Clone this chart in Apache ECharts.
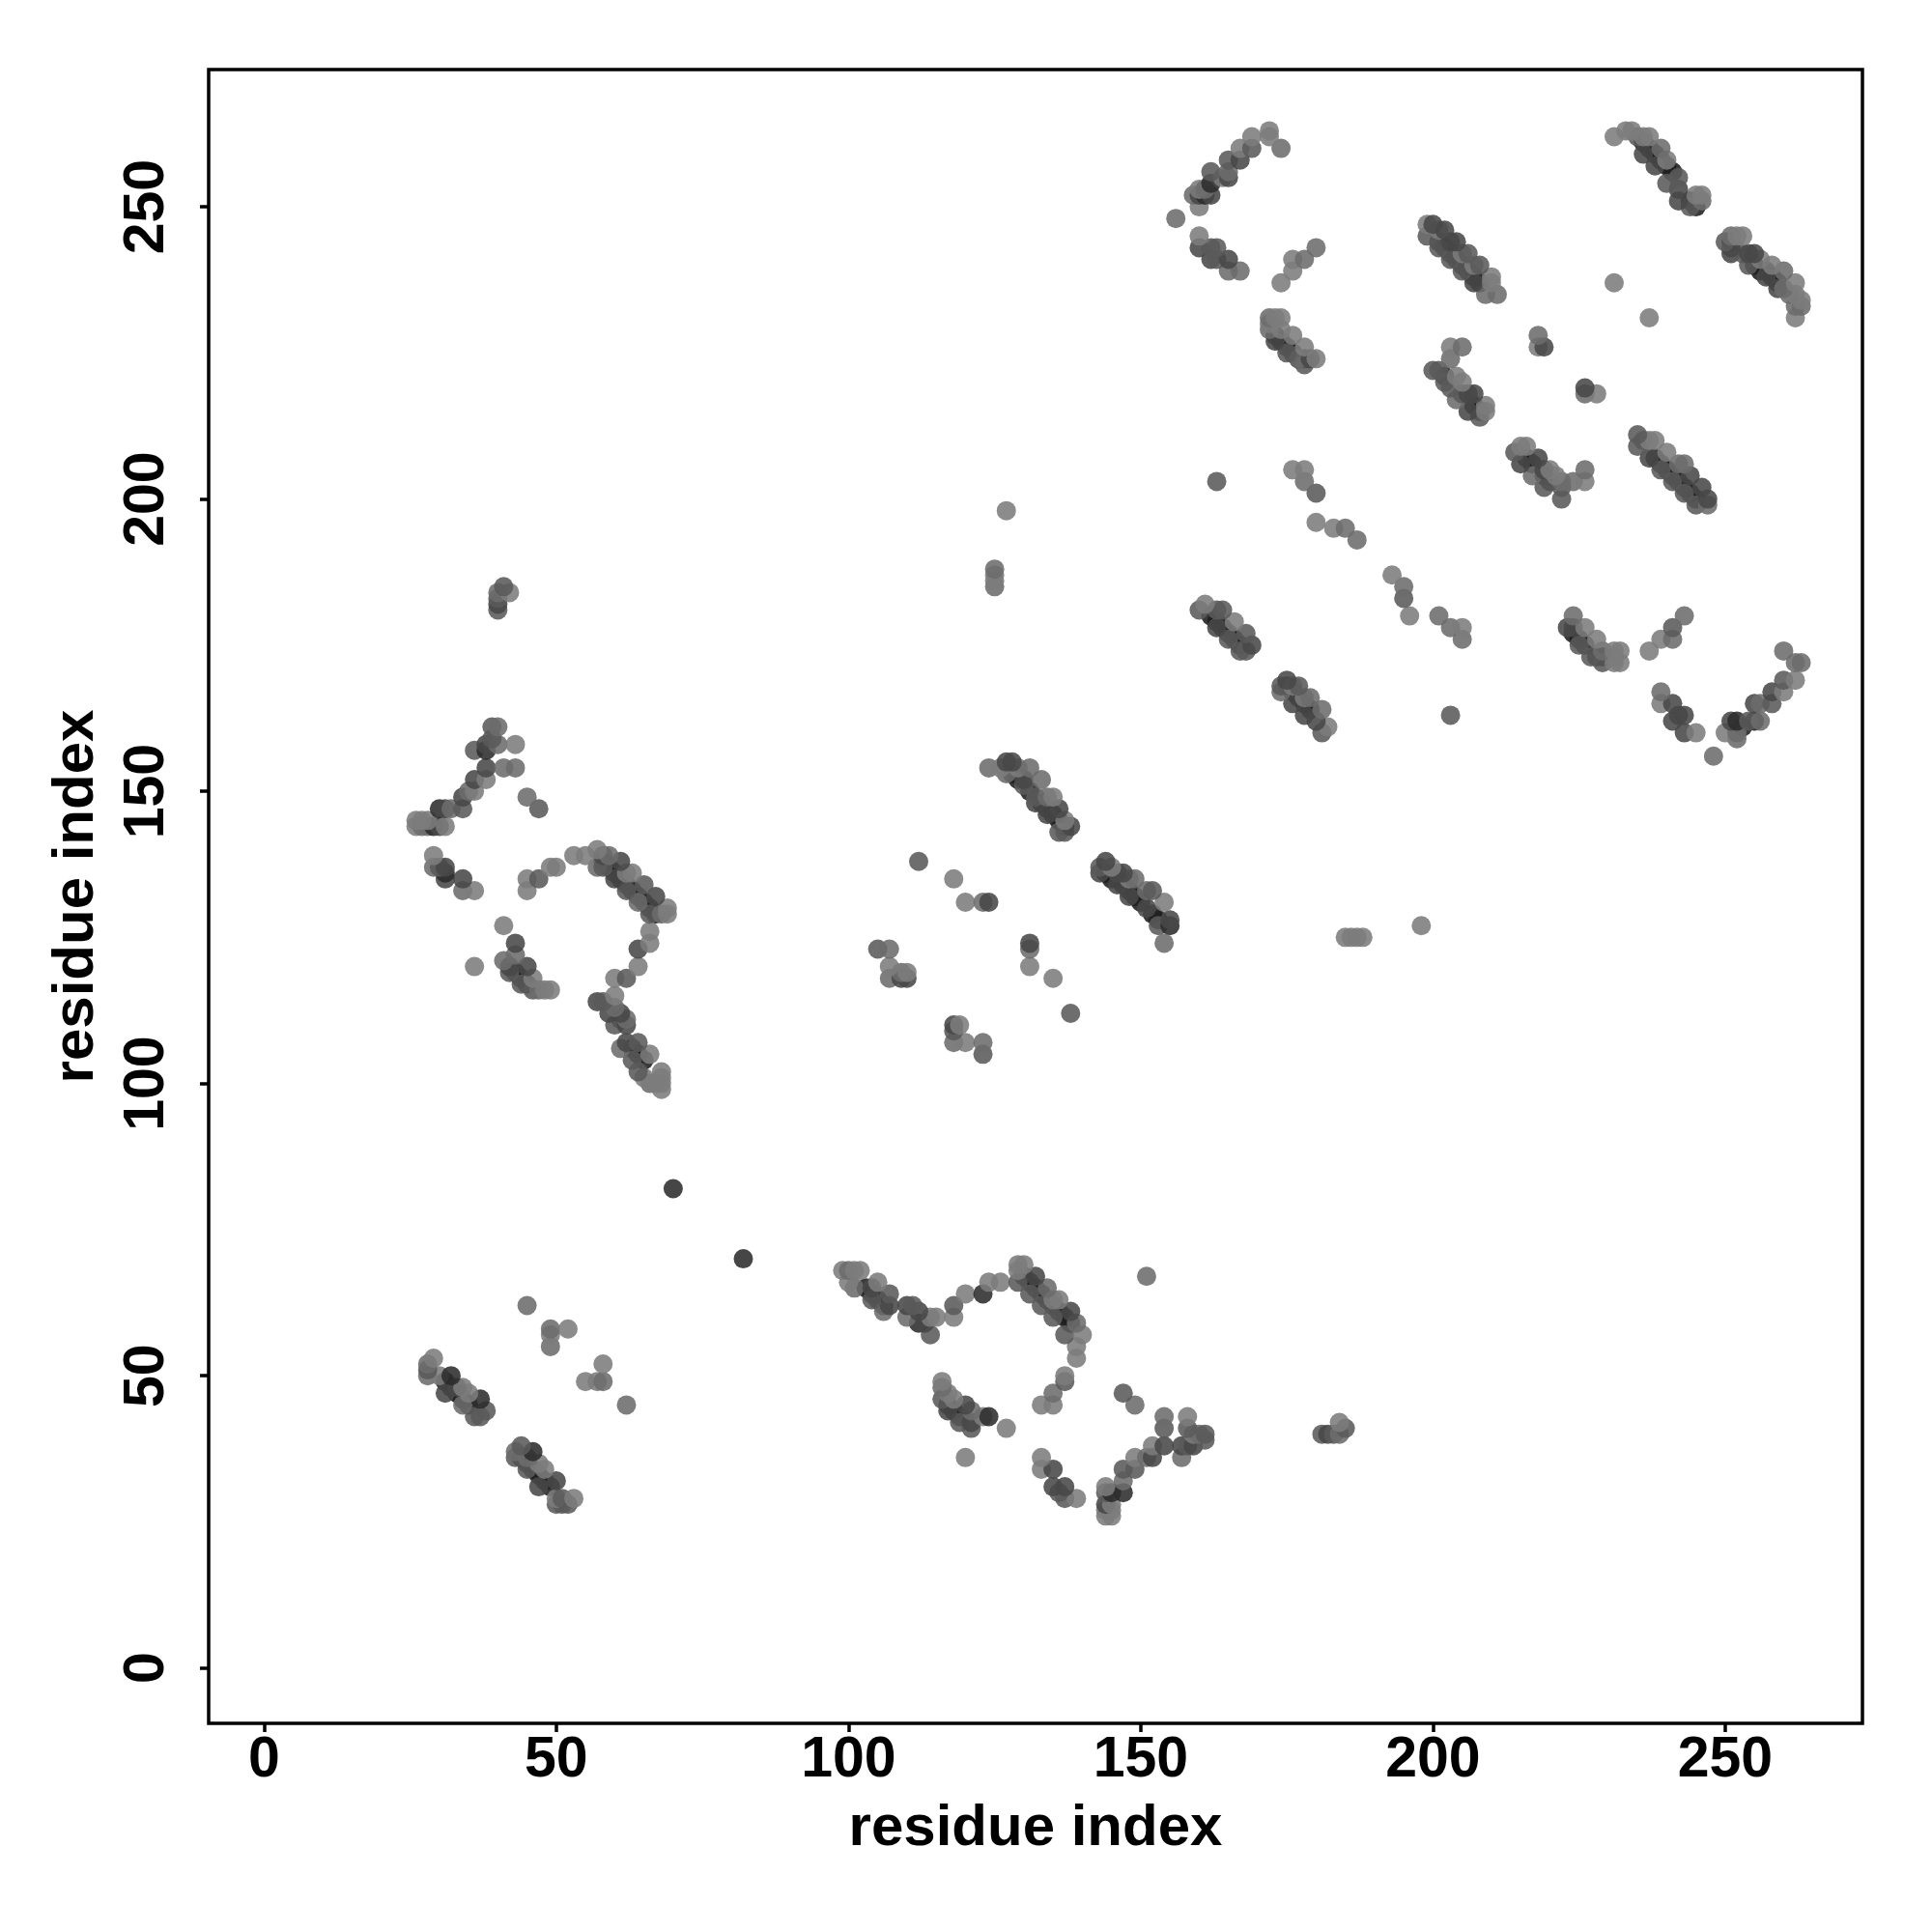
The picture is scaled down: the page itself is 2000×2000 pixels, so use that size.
<!DOCTYPE html>
<html><head><meta charset="utf-8"><style>html,body{margin:0;background:#fff}#c{width:2000px;height:2000px}</style>
<script src="https://cdn.jsdelivr.net/npm/echarts@6/dist/echarts.min.js"></script></head><body><div id="c"></div><script>
const tickLabels=[0,50,100,150,200,250];
const axisName="residue index";
// [residue i, residue j, grey level of the dot]; S marks dark dots that lie under the others
const L=124,M=108,N=90,D=72,K=44,S=30;
const helixA=[[40,181,N],[40,182,D],[40,183,N],[40,184,M],[41,185,N],[42,184,L]];
const loopB=[[40,161,M],[39,161,N],[38,158,D],[39,159,N],[40,158,M],[43,158,L],[36,157,N],[38,157,K],[38,154,D],[41,154,M],[43,154,M],[38,152,L],[36,152,D],[45,149,M],[47,147,N],[36,150,L],[34,149,D],[35,150,M],[34,147,N],[32,147,M],[30,147,K],[31,147,D],[29,144,K],[31,144,L],[27,144,M],[26,144,L],[26,145,L],[27,145,L],[28,144,M],[28,145,L],[30,144,D],
[29,139,L],[29,137,M],[30,137,N],[31,137,D],[31,135,D],[31,136,K],[34,135,D],[34,133,M],[36,133,L]];
const arcC=[[45,135,L],[45,133,L],[47,135,N],[49,137,L],[50,137,L],[53,139,L],[55,139,L],[57,140,L],[58,139,D],[59,139,M],[61,138,D],[62,136,L],[63,136,L],[65,134,N],[67,132,D],[69,130,L],[69,129,L],[68,129,M],[57,137,M],[58,137,N],[60,135,D],[62,133,N],[64,131,M],[66,129,N],[58,138,S],[59,137,S],[60,136,S],[61,135,S],[62,134,S],[63,133,S],[64,132,S],[65,131,S],[66,130,S],[67,129,S]];
const bandD=[[41,127,L],[43,124,D],[43,122,M],[41,121,M],[42,120,D],[42,119,N],[45,120,D],[44,117,N],[46,118,L],[46,116,N],[49,116,L],[48,116,L],[47,116,M],[36,120,L],[43,119,S],[44,118,S],[45,117,S]];
const turnE=[[66,126,L],[66,124,L],[64,123,D],[64,120,L],[62,118,N],[60,118,L],[60,115,L],[57,114,D],[58,114,N],[59,112,D],[61,112,D],[62,111,M],[60,110,N],[62,110,D],[61,111,S],[60,113,M],[61,106,M],[62,107,D],[64,107,N],[63,104,N],[66,105,L],[65,101,L],[68,102,L],[68,99,L],[66,100,M],[68,100,L],[68,101,L],[64,102,N],[63,106,S],[64,105,S],[65,104,S],[67,100,L]];
const pointsF=[[70,82,K],[82,70,K],[45,62,M],[49,58,M],[52,58,L],[49,55,M],[49,57,L],[58,52,L],[55,49,L],[57,49,L],[58,49,M],[62,45,M]];
const bandG=[[29,53,L],[28,52,M],[28,50,M],[28,51,N],[30,50,L],[32,50,K],[31,47,D],[34,48,L],[33,48,D],[35,47,L],[34,45,M],[37,46,K],[38,44,N],[36,43,N],[37,43,N],[31,49,S],[32,48,S],[33,47,S],[34,46,S],[35,45,S]];
const bandH=[[44,38,N],[43,36,N],[43,37,M],[46,37,K],[45,36,M],[45,34,N],[47,35,L],[48,34,L],[47,31,D],[50,32,D],[50,29,L],[50,28,N],[51,28,N],[52,28,N],[53,29,L],[51,29,N],[44,36,S],[45,35,S],[46,34,S],[47,33,S],[48,32,S],[49,31,S]];
const bandI=[[99,68,L],[100,68,M],[101,68,L],[102,68,L],[100,66,L],[101,65,M],[104,65,D],[105,66,L],[104,63,N],[106,61,M],[107,64,N],[107,62,D],[103,65,S],[104,64,S],[105,63,S],[106,62,S],
[110,62,D],[111,62,N],[110,60,M],[112,61,D],[112,59,K],[114,60,L],[115,60,L],[114,57,N],[113,59,D],[118,60,L],[118,62,N],[120,64,L],[123,64,K],[124,66,L],[126,66,L]];
const bandJ=[[129,69,L],[130,69,L],[129,68,L],[129,66,N],[132,67,D],[131,64,N],[134,65,M],[133,62,N],[135,63,L],[136,63,L],[135,60,N],[138,61,D],[139,59,M],[137,57,N],[140,57,L],[139,55,L],[139,53,L],[130,67,S],[131,66,S],[132,65,S],[133,64,S],[134,63,S],[135,62,S],[136,61,S],[137,60,S],[138,59,S],
[137,50,L],[137,49,N],[135,47,M],[133,45,L],[135,45,L],[151,67,M]];
const bandK=[[147,47,N],[149,45,M],[154,43,M],[154,41,N],[158,43,L],[158,41,N],[116,49,L],[116,48,M],[116,46,N],[117,47,L],[117,44,D],[118,46,L],[120,45,D],[121,44,M],[119,42,N],[121,41,N],[121,42,D],[124,43,K],[123,43,L],[127,41,L],[120,36,L],[118,44,S],[119,43,S],[117,45,S]];
const cornerL=[[133,36,L],[133,34,L],[135,34,D],[135,31,D],[137,31,D],[136,30,N],[137,29,N],[139,29,L],[144,31,L],[144,30,N],[144,28,D],[144,26,L],[145,26,L],[145,30,K],[147,30,K],[145,28,L],[145,27,L],[144,27,L],[147,32,M],[147,34,N],[149,34,N],[149,36,L],[152,38,L],[152,36,D],[151,36,M],[154,38,D],[157,38,D],[157,36,M],[158,38,N],[159,38,D],[161,40,N],[159,40,L],[160,40,M],[161,39,N],[181,40,N],[182,40,D],[183,40,N],[184,40,M],[185,41,N],[184,42,L]];
const bandM=[[124,154,M],[126,154,L],[127,155,D],[128,155,D],[127,153,M],[129,154,L],[131,154,M],[130,152,D],[133,152,M],[130,151,N],[132,149,N],[135,149,L],[134,149,M],[132,148,D],[136,147,D],[134,146,D],[137,145,L],[138,144,D],[136,143,N],[137,143,N],[128,153,S],[129,152,S],[131,150,S],[133,148,S],[134,147,S],[135,146,S],[136,145,S],[137,144,S]];
const bandN=[[144,138,D],[143,137,N],[143,136,D],[145,137,L],[146,136,D],[147,136,D],[146,134,D],[148,135,L],[149,135,M],[148,132,D],[151,133,M],[152,133,N],[151,130,D],[154,131,L],[153,127,N],[155,128,D],[155,127,K],[154,124,M],[144,136,S],[145,135,S],[146,135,S],[147,134,S],[148,133,S],[149,132,S],[150,131,S],[152,129,S],[153,128,S]];
const scatterO=[[112,138,N],[118,135,L],[120,131,L],[123,131,M],[124,131,D],[105,123,N],[107,123,M],[107,120,L],[107,118,M],[109,119,M],[109,118,D],[110,119,L],[110,118,D],[131,124,D],[131,123,M],[131,120,L],[135,118,L],[138,112,N],[118,110,D],[119,110,L],[118,107,M],[120,107,L],[118,109,N],[123,107,M],[123,105,N],[127,198,L],[125,185,M],[125,186,L],[125,187,L],[125,188,M],[198,127,L],[185,125,L],[186,125,L],[187,125,L],[188,125,L]];
const armP=[[156,248,M],[160,250,L],[159,252,M],[160,252,D],[161,252,K],[162,252,D],[161,253,M],[160,253,L],[162,256,N],[162,254,K],[164,255,L],[165,255,D],[165,256,M],[165,258,N],[167,258,D],[167,260,L],[169,260,N],[169,262,L],[172,263,L],[172,262,L],[174,260,M],[160,245,L],[160,243,D],[162,243,N],[163,243,N],[162,241,D],[163,241,N],[165,241,D],[165,239,M],[167,239,M],[174,237,L],[176,239,L],[176,241,L],[178,241,M],[180,243,M]];
const bandQ=[[172,231,M],[174,231,L],[173,231,L],[172,230,L],[172,229,M],[173,227,D],[174,229,L],[176,228,L],[175,225,N],[178,226,L],[179,224,D],[180,224,L],[178,223,N],[177,224,M],[173,228,S],[174,227,S],[175,226,S],[176,225,S],[177,224,S],[178,224,S]];
const bandR=[[199,245,N],[199,247,L],[200,247,D],[202,246,D],[201,246,L],[204,244,D],[203,244,D],[201,243,N],[203,241,N],[205,242,L],[206,242,N],[205,239,N],[207,240,L],[208,240,N],[207,237,D],[210,238,L],[210,237,L],[209,235,M],[211,235,M],[201,244,S],[202,243,S],[203,242,S],[204,241,S],[205,240,S],[206,239,S],[207,238,S],[208,237,S]];
const bandS=[[218,228,M],[218,226,L],[219,226,D],[226,219,D],[226,218,M],[228,218,L],[231,237,L],[237,231,L],[203,226,L],[205,226,M],[203,224,M],[200,222,N],[201,222,N],[202,220,N],[204,221,L],[205,220,L],[204,217,M],[206,218,D],[207,218,D],[206,215,D],[208,214,N],[209,216,L],[209,215,L],[203,219,N],[205,218,N],[207,216,S],[208,215,S],[202,221,S]];
const bandT=[[214,208,N],[215,209,L],[216,209,L],[215,206,D],[218,207,D],[217,204,M],[219,205,D],[220,205,L],[221,204,L],[219,202,N],[222,203,M],[222,200,N],[222,202,N],[224,203,M],[226,203,L],[226,205,M],[216,207,S],[217,206,S],[219,204,S],[220,203,S]];
const bandU=[[235,211,N],[235,209,N],[236,210,N],[237,210,L],[238,210,L],[237,207,D],[240,208,L],[239,205,N],[242,206,M],[243,206,M],[241,203,N],[244,204,D],[243,201,N],[246,202,D],[247,200,D],[245,199,N],[247,199,M],[238,207,S],[239,206,S],[240,205,S],[241,204,S],[242,203,S],[243,202,S],[244,201,S],[245,200,S]];
const bandV=[[231,262,L],[233,263,L],[234,263,L],[235,262,N],[236,262,L],[237,262,L],[239,260,M],[240,258,L],[242,255,N],[236,259,D],[238,257,D],[240,254,N],[242,251,D],[244,250,N],[245,252,L],[246,252,L],[246,251,M],[242,253,D],[236,261,S],[237,260,S],[238,259,S],[239,258,S],[240,257,S],[241,256,S],[245,250,S],[244,251,S]];
const bandW=[[250,244,N],[251,243,D],[251,242,D],[252,245,L],[251,245,M],[253,245,L],[254,242,D],[255,242,D],[254,240,N],[256,241,L],[258,240,L],[260,239,M],[257,238,D],[259,236,D],[262,237,L],[263,234,L],[262,233,M],[262,231,L],[261,235,M],[251,244,S],[253,242,N],[255,240,S],[256,239,S],[257,239,S],[258,238,S],[259,237,S],[260,236,M],[262,235,L],[263,233,M]];
const bandX=[[160,181,N],[161,182,L],[163,181,N],[164,181,N],[163,178,D],[166,179,L],[165,176,N],[168,177,N],[167,174,N],[169,175,D],[168,174,N],[162,180,S],[163,179,S],[164,178,S],[165,177,S],[166,176,S],[167,175,S]];
const bandY=[[175,169,D],[174,168,N],[174,167,M],[176,168,L],[177,168,N],[176,165,D],[178,166,L],[179,166,M],[178,163,D],[181,164,M],[181,160,N],[182,161,L],[175,168,S],[176,167,S],[177,166,S],[178,165,S],[179,164,S],[180,162,D]];
const chainZ=[[163,203,N],[176,205,L],[178,205,L],[178,203,M],[180,201,N],[180,196,L],[183,195,L],[185,195,M],[187,193,M],[193,187,L],[195,185,M],[195,183,N],[196,180,L],[201,180,M],[203,178,M],[205,178,L],[205,176,M],[203,163,N]];
const bandAA=[[224,180,M],[223,178,D],[224,178,D],[226,178,L],[225,175,N],[228,176,L],[227,173,N],[229,174,M],[231,174,L],[232,174,L],[231,173,L],[229,172,N],[231,172,L],[232,172,L],[237,174,L],[239,176,L],[241,176,M],[241,178,N],[243,180,M],[224,177,S],[225,176,S],[226,175,S],[228,173,S],[229,173,S]];
const armAB=[[239,167,M],[239,165,L],[241,165,D],[241,162,D],[242,163,D],[243,163,D],[243,160,D],[245,160,L],[248,156,M],[250,160,L],[252,162,K],[252,159,M],[251,162,D],[254,162,N],[256,162,M],[255,165,D],[256,165,M],[258,165,N],[258,167,D],[260,167,L],[260,169,N],[262,169,L],[260,174,M],[262,172,M],[263,172,M],[252,160,M],[253,161,S],[255,162,S]];
const clusters=[helixA,loopB,arcC,bandD,turnE,pointsF,bandG,bandH,bandI,bandJ,bandK,cornerL,bandM,bandN,scatterO,armP,bandQ,bandR,bandS,bandT,bandU,bandV,bandW,bandX,bandY,chainZ,bandAA,armAB];
const contacts=clusters.flat().sort((a,b)=>(b[2]===S)-(a[2]===S)||a[1]-b[1]||a[0]-b[0]);
const chart=echarts.init(document.getElementById('c'),null,{renderer:'canvas'});
const font="'Liberation Sans'";
const axisCommon={type:'value',min:-9.48,max:273.48,name:axisName,nameLocation:'middle',nameMoveOverlap:false,
 nameTextStyle:{fontFamily:font,fontWeight:'bold',fontSize:60,color:'#000'},
 axisLine:{show:false,onZero:false},splitLine:{show:false},
 axisTick:{show:true,length:9,customValues:tickLabels,lineStyle:{color:'#000',width:3.5}}};
chart.setOption({animation:false,backgroundColor:'#fff',
 grid:{left:216,top:72,width:1712,height:1712,show:true,borderColor:'#000',borderWidth:3.5,backgroundColor:'transparent'},
 xAxis:{...axisCommon,nameGap:79,axisLabel:{customValues:tickLabels,margin:9,fontFamily:font,fontWeight:'bold',fontSize:59,color:'#000'}},
 yAxis:{...axisCommon,nameGap:107,axisLabel:{customValues:tickLabels,rotate:90,margin:34,fontFamily:font,fontWeight:'bold',fontSize:59,color:'#000'}},
 series:[{type:'scatter',data:contacts,symbol:'circle',symbolSize:20,encode:{x:0,y:1},clip:false,large:false,
  itemStyle:{color:p=>{const g=p.data[2];return `rgba(${g},${g},${g},0.88)`},opacity:1}}]});
</script></body></html>
